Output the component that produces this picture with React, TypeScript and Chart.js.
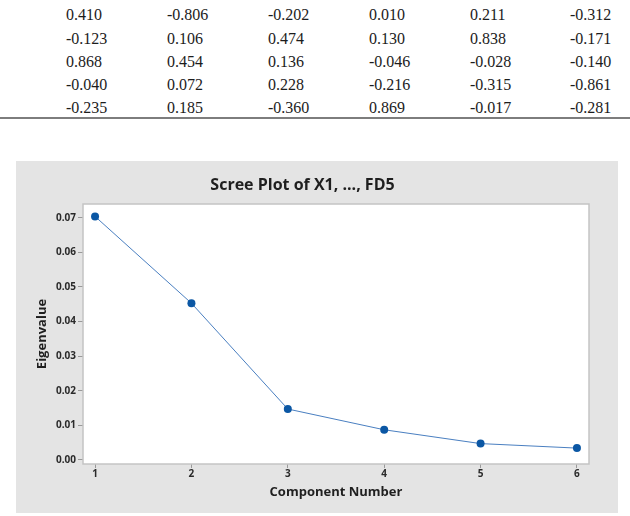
import React, { useEffect, useRef } from "react";
import { Chart, registerables } from "chart.js";

Chart.register(...registerables);

// Table above the chart (coefficients)
const tableRow1 = ["0.410", "-0.806", "-0.202", "0.010", "0.211", "-0.312"];
const tableRow2 = ["-0.123", "0.106", "0.474", "0.130", "0.838", "-0.171"];
const tableRow3 = ["0.868", "0.454", "0.136", "-0.046", "-0.028", "-0.140"];
const tableRow4 = ["-0.040", "0.072", "0.228", "-0.216", "-0.315", "-0.861"];
const tableRow5 = ["-0.235", "0.185", "-0.360", "0.869", "-0.017", "-0.281"];
const tableRows = [tableRow1, tableRow2, tableRow3, tableRow4, tableRow5];

// Scree plot data
const componentNumbers = [1, 2, 3, 4, 5, 6];
const eigenvalues = [0.0704, 0.0453, 0.0147, 0.0087, 0.0047, 0.0034];
const yTickValues = [0, 0.01, 0.02, 0.03, 0.04, 0.05, 0.06, 0.07];
const xTickValues = [1, 2, 3, 4, 5, 6];

const chartTitle = "Scree Plot of X1, ..., FD5";
const xTitle = "Component Number";
const yTitle = "Eigenvalue";

const SANS = "'Open Sans', 'Noto Sans', sans-serif";

export default function App() {
  const canvasRef = useRef<HTMLCanvasElement | null>(null);

  useEffect(() => {
    const canvas = canvasRef.current;
    if (!canvas) return;

    const framePlugin = {
      id: "frame",
      beforeDraw(chart: any) {
        const { ctx, chartArea } = chart;
        ctx.save();
        ctx.fillStyle = "#ffffff";
        ctx.fillRect(chartArea.left, chartArea.top, chartArea.right - chartArea.left, chartArea.bottom - chartArea.top);
        ctx.restore();
      },
      beforeDatasetsDraw(chart: any) {
        const { ctx, chartArea } = chart;
        ctx.save();
        ctx.strokeStyle = "#c4c4c4";
        ctx.lineWidth = 1.5;
        ctx.strokeRect(chartArea.left, chartArea.top, chartArea.right - chartArea.left, chartArea.bottom - chartArea.top);
        ctx.restore();
      },
    };

    const chart = new Chart(canvas, {
      type: "line",
      data: {
        datasets: [
          {
            data: componentNumbers.map((c, i) => ({ x: c, y: eigenvalues[i] })),
            borderColor: "#4a7fc1",
            borderWidth: 1,
            pointBackgroundColor: "#0b57a4",
            pointBorderColor: "#0b57a4",
            pointBorderWidth: 0,
            pointRadius: 4,
            tension: 0,
            fill: false,
          },
        ],
      },
      options: {
        responsive: false,
        animation: false,
        devicePixelRatio: 1,
        layout: { padding: { left: 0, right: 29, top: 0, bottom: 0 } },
        plugins: {
          legend: { display: false },
          tooltip: { enabled: false },
          title: {
            display: true,
            text: chartTitle,
            color: "#1f1f1f",
            font: { family: SANS, size: 16, weight: "bold" as any, lineHeight: 1.2 },
            padding: { top: 14.4, bottom: 9.4 },
          },
        },
        scales: {
          x: {
            type: "linear",
            min: 0.875,
            max: 6.125,
            afterBuildTicks: (scale: any) => {
              scale.ticks = xTickValues.map((v) => ({ value: v }));
            },
            afterFit: (scale: any) => {
              scale.height = 49;
            },
            grid: {
              display: true,
              drawOnChartArea: false,
              drawTicks: true,
              tickLength: 4,
              tickColor: "#9a9a9a",
            },
            border: { display: false },
            ticks: {
              padding: 0,
              color: "#2a2a2a",
              font: { family: SANS, size: 10, weight: "bold" as any },
              maxRotation: 0,
              callback: (v: any) => String(v),
            },
            title: {
              display: true,
              text: xTitle,
              color: "#1f1f1f",
              font: { family: SANS, size: 13, weight: "bold" as any, lineHeight: 1.2 },
              padding: { top: 0, bottom: 13 },
            },
          },
          y: {
            type: "linear",
            min: -0.0012,
            max: 0.074,
            afterBuildTicks: (scale: any) => {
              scale.ticks = yTickValues.map((v) => ({ value: v }));
            },
            afterFit: (scale: any) => {
              scale.width = 67;
            },
            grid: {
              display: true,
              drawOnChartArea: false,
              drawTicks: true,
              tickLength: 5,
              tickColor: "#9a9a9a",
            },
            border: { display: false },
            ticks: {
              padding: 2,
              color: "#2a2a2a",
              font: { family: SANS, size: 10, weight: "bold" as any },
              callback: (v: any) => Number(v).toFixed(2),
            },
            title: {
              display: true,
              text: yTitle,
              color: "#1f1f1f",
              font: { family: SANS, size: 13, weight: "bold" as any, lineHeight: 1.2 },
              padding: { top: 18, bottom: 0 },
            },
          },
        },
      },
      plugins: [framePlugin],
    } as any);

    return () => chart.destroy();
  }, []);

  const colLeft = [66, 167, 268, 369, 470, 570];
  const rowCenter = [15, 38.2, 61.4, 84.6, 107.8];

  return (
    <div style={{ position: "absolute", left: 0, top: 0, width: 630, height: 516, overflow: "hidden", background: "#ffffff" }}>
      {tableRows.map((row, ri) =>
        row.map((cell, ci) => (
          <div
            key={`${ri}-${ci}`}
            style={{
              position: "absolute",
              left: colLeft[ci],
              top: rowCenter[ri] - 11.6,
              height: 23.2,
              lineHeight: "23.2px",
              fontFamily: "'Liberation Serif', 'Times New Roman', serif",
              fontSize: 16,
              color: "#1c1c1c",
              whiteSpace: "nowrap",
            }}
          >
            {cell}
          </div>
        ))
      )}
      <div style={{ position: "absolute", left: 0, top: 117, width: 630, height: 2, background: "#7d7d7d" }} />
      <div style={{ position: "absolute", left: 16, top: 161, width: 602, height: 352, background: "#e4e4e4" }}>
        <canvas ref={canvasRef} width={602} height={352} style={{ display: "block", width: 602, height: 352 }} />
      </div>
    </div>
  );
}
